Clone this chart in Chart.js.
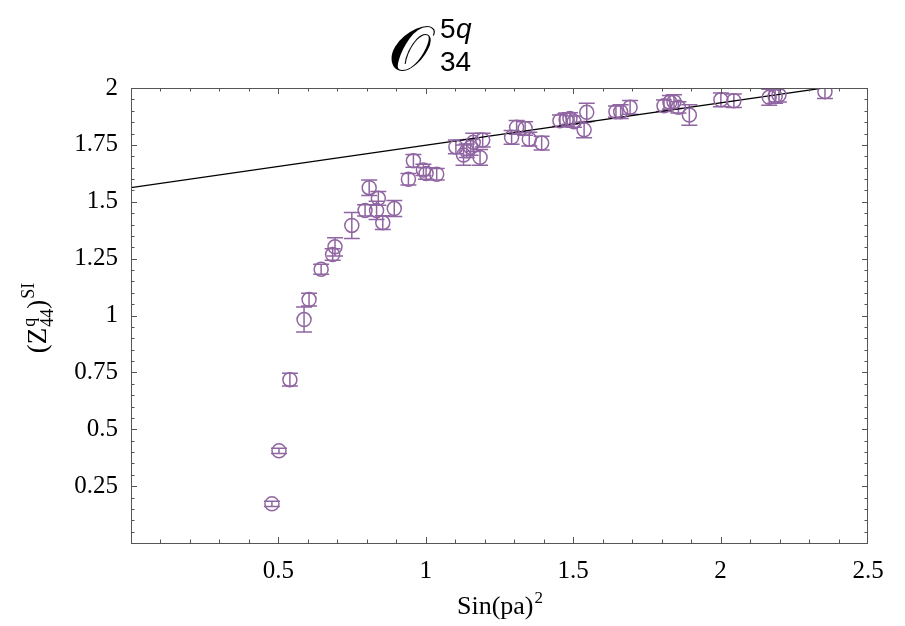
<!DOCTYPE html>
<html>
<head>
    <title>Z44 SI vs Sin(pa)^2</title>
    <script src="https://cdn.jsdelivr.net/npm/chart.js"></script>
    <style>
        body { margin: 0; background: #fff; }
    </style>
</head>
<body>
    <canvas id="chart" width="905" height="626"></canvas>

    <script>
        // Data
        var xValues = [0.478, 0.502, 0.539, 0.587, 0.604, 0.645, 0.684, 0.692, 0.749, 0.794,
                       0.808, 0.839, 0.833, 0.854, 0.893, 0.941, 0.958, 0.992, 1.001, 1.037,
                       1.102, 1.128, 1.139, 1.152, 1.161, 1.184, 1.193, 1.291, 1.308, 1.337,
                       1.351, 1.393, 1.455, 1.476, 1.489, 1.503, 1.537, 1.546, 1.645, 1.661,
                       1.693, 1.808, 1.828, 1.842, 1.857, 1.894, 2.001, 2.045, 2.165, 2.185,
                       2.198, 2.354];
        var yValues = [0.172, 0.405, 0.718, 0.982, 1.070, 1.203, 1.268, 1.302, 1.396, 1.462,
                       1.562, 1.515, 1.462, 1.408, 1.470, 1.599, 1.680, 1.640, 1.624, 1.621,
                       1.741, 1.705, 1.724, 1.739, 1.761, 1.695, 1.771, 1.783, 1.827, 1.822,
                       1.775, 1.758, 1.856, 1.860, 1.866, 1.852, 1.816, 1.893, 1.896, 1.896,
                       1.915, 1.922, 1.937, 1.940, 1.915, 1.881, 1.948, 1.944, 1.959, 1.963,
                       1.969, 1.984];
        var yErrors = [0.012, 0.012, 0.028, 0.055, 0.028, 0.022, 0.025, 0.040, 0.057, 0.025,
                       0.034, 0.030, 0.040, 0.030, 0.035, 0.025, 0.028, 0.025, 0.025, 0.025,
                       0.030, 0.045, 0.030, 0.035, 0.040, 0.035, 0.030, 0.030, 0.030, 0.030,
                       0.030, 0.030, 0.025, 0.030, 0.025, 0.025, 0.035, 0.040, 0.025, 0.030,
                       0.030, 0.025, 0.030, 0.030, 0.025, 0.045, 0.030, 0.030, 0.035, 0.030,
                       0.030, 0.030];
        // Fitted straight line (end points)
        var fitX = [0, 2.5];
        var fitY = [1.562, 2.028];

        var xTicks = [0.5, 1, 1.5, 2, 2.5];
        var yTicks = [0.25, 0.5, 0.75, 1, 1.25, 1.5, 1.75, 2];

        var purple = '#9066a2';
        var serif = '"Liberation Serif", "DejaVu Serif", serif';
        var sans = '"Liberation Sans", "DejaVu Sans", sans-serif';

        function toPoints(xs, ys) {
            var pts = [];
            for (var i = 0; i < xs.length; i++) {
                pts.push({ x: xs[i], y: ys[i] });
            }
            return pts;
        }

        // draws a row of text pieces, pieces in the same group share one slot (sup over sub)
        function drawPieces(ctx, pieces, cx, baseline) {
            var groups = [];
            pieces.forEach(function (p) {
                ctx.font = (p.italic ? 'italic ' : '') + p.size + 'px ' + p.family;
                p.w = ctx.measureText(p.t).width;
                if (p.stack && groups.length) {
                    groups[groups.length - 1].push(p);
                } else {
                    groups.push([p]);
                }
            });
            var total = 0;
            groups.forEach(function (g) {
                g.w = Math.max.apply(null, g.map(function (p) { return p.w; }));
                total += g.w + (g[0].gap || 0);
            });
            var x = cx - total / 2;
            groups.forEach(function (g) {
                x += g[0].gap || 0;
                g.forEach(function (p) {
                    ctx.font = (p.italic ? 'italic ' : '') + p.size + 'px ' + p.family;
                    ctx.fillText(p.t, x, baseline + (p.dy || 0));
                });
                x += g.w;
            });
        }

        var framePlugin = {
            id: 'frame',
            beforeDatasetsDraw: function (chart) {
                var ctx = chart.ctx;
                var xs = chart.scales.x, ys = chart.scales.y;
                var a = chart.chartArea;
                ctx.save();
                ctx.beginPath();
                ctx.rect(a.left, a.top, a.right - a.left, a.bottom - a.top);
                ctx.clip();
                // error bars
                ctx.strokeStyle = purple;
                ctx.lineWidth = 1.5;
                for (var i = 0; i < xValues.length; i++) {
                    var px = xs.getPixelForValue(xValues[i]);
                    var top = ys.getPixelForValue(yValues[i] + yErrors[i]);
                    var bot = ys.getPixelForValue(yValues[i] - yErrors[i]);
                    ctx.beginPath();
                    ctx.moveTo(px, top); ctx.lineTo(px, bot);
                    ctx.moveTo(px - 8, top); ctx.lineTo(px + 8, top);
                    ctx.moveTo(px - 8, bot); ctx.lineTo(px + 8, bot);
                    ctx.stroke();
                }
                ctx.restore();
            },
            afterDraw: function (chart) {
                var ctx = chart.ctx;
                var xs = chart.scales.x, ys = chart.scales.y;
                var a = chart.chartArea;
                ctx.save();
                ctx.strokeStyle = '#555';
                ctx.lineWidth = 1;
                ctx.strokeRect(a.left + 0.5, a.top + 0.5, a.right - a.left - 1, a.bottom - a.top);
                // inward ticks on all four sides
                ctx.beginPath();
                var i, v, p, len;
                for (i = 1; i < 25; i++) {
                    v = i / 10;
                    p = Math.round(xs.getPixelForValue(v)) + 0.5;
                    len = (i % 5 === 0) ? 6 : 3.5;
                    ctx.moveTo(p, a.bottom); ctx.lineTo(p, a.bottom - len);
                    ctx.moveTo(p, a.top); ctx.lineTo(p, a.top + len);
                }
                for (i = 1; i < 40; i++) {
                    v = i / 20;
                    p = Math.round(ys.getPixelForValue(v)) + 0.5;
                    len = (i % 5 === 0) ? 6 : 3.5;
                    ctx.moveTo(a.left, p); ctx.lineTo(a.left + len, p);
                    ctx.moveTo(a.right, p); ctx.lineTo(a.right - len, p);
                }
                ctx.stroke();

                ctx.fillStyle = '#000';
                ctx.textBaseline = 'alphabetic';
                ctx.textAlign = 'left';
                // title: script O with 5q over 34
                ctx.save();
                ctx.translate(388, 70);
                ctx.scale(1.1, 1);
                ctx.font = '62px "DejaVu Sans", ' + serif;
                ctx.fillText('\u{1D4AA}', 0, 0);
                ctx.restore();
                ctx.font = '28px ' + sans;
                ctx.fillText('5', 440, 38);
                ctx.font = 'italic 28px ' + sans;
                ctx.fillText('q', 456, 38);
                ctx.font = '28px ' + sans;
                ctx.fillText('34', 440, 71);

                // x axis title
                drawPieces(ctx, [
                    { t: 'Sin(pa)', size: 26, family: serif },
                    { t: '2', size: 17, family: serif, dy: -11, gap: 1 }
                ], 500, 614);

                // y axis title, rotated
                ctx.translate(46, 318);
                ctx.rotate(-Math.PI / 2);
                drawPieces(ctx, [
                    { t: '(Z', size: 27, family: serif },
                    { t: 'q', size: 18, family: serif, dy: -11, gap: 1 },
                    { t: '44', size: 18, family: serif, dy: 7, stack: true },
                    { t: ')', size: 27, family: serif },
                    { t: 'SI', size: 18, family: serif, dy: -12, gap: 1 }
                ], 0, 0);
                ctx.restore();
            }
        };

        var canvas = document.getElementById('chart');
        var chart = new Chart(canvas, {
            type: 'scatter',
            data: {
                datasets: [
                    {
                        type: 'line',
                        data: toPoints(fitX, fitY),
                        borderColor: '#000',
                        borderWidth: 1.3,
                        pointRadius: 0,
                        fill: false,
                        order: 2
                    },
                    {
                        data: toPoints(xValues, yValues),
                        borderColor: purple,
                        backgroundColor: 'rgba(0,0,0,0)',
                        borderWidth: 1.5,
                        pointRadius: 7,
                        pointStyle: 'circle',
                        order: 1
                    }
                ]
            },
            plugins: [framePlugin],
            options: {
                responsive: false,
                animation: false,
                events: [],
                layout: { padding: { top: 88, right: 37, left: 0, bottom: 0 } },
                plugins: {
                    legend: { display: false },
                    tooltip: { enabled: false },
                    title: { display: false }
                },
                scales: {
                    x: {
                        type: 'linear',
                        min: 0,
                        max: 2.5,
                        afterFit: function (s) { s.height = 83; },
                        afterBuildTicks: function (s) {
                            s.ticks = xTicks.map(function (v) { return { value: v }; });
                        },
                        grid: { display: false, drawTicks: false },
                        border: { display: false },
                        ticks: {
                            padding: 13,
                            color: '#000',
                            font: { family: serif, size: 25 },
                            callback: function (v) { return String(v); }
                        }
                    },
                    y: {
                        min: 0,
                        max: 2,
                        afterFit: function (s) { s.width = 131; },
                        afterBuildTicks: function (s) {
                            s.ticks = yTicks.map(function (v) { return { value: v }; });
                        },
                        grid: { display: false, drawTicks: false },
                        border: { display: false },
                        ticks: {
                            padding: 13,
                            color: '#000',
                            font: { family: serif, size: 25 },
                            callback: function (v) { return String(v); }
                        }
                    }
                }
            }
        });
    </script>
</body>
</html>
